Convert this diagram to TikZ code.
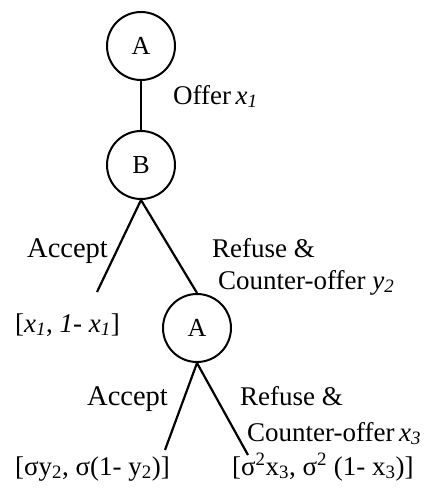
\documentclass[tikz,border=0pt]{standalone}
\usepackage{fontspec}
\setmainfont{Liberation Serif}
\begin{document}
\begin{tikzpicture}[x=1pt,y=-1pt,
  player/.style={circle,draw,line width=2pt,minimum size=68pt,inner sep=0pt,font=\fontsize{26}{30}\selectfont},
  edge/.style={line width=2.2pt},
  lbl/.style={anchor=base west,inner sep=0pt,font=\fontsize{27}{30}\selectfont}]
\useasboundingbox (0,0) rectangle (444,495);
\node[player] (A1) at (141,46) {A};
\node[player] (B) at (141,165) {B};
\node[player] (A2) at (197,328) {A};
\coordinate (L1) at (97,292);
\coordinate (L2) at (165,450);
\coordinate (L3) at (248,455);
\draw[edge] (A1) -- (B);
\draw[edge] (B.south) -- (L1);
\draw[edge] (B.south) -- (A2.north);
\draw[edge] (A2.south) -- (L2);
\draw[edge] (A2.south) -- (L3);
\node[lbl] (t1) at (173,104) {Offer\,\textit{x}\textsubscript{\textit{1}}};
\node[lbl,font=\fontsize{28.5}{30}\selectfont] (t2) at (27,257) {Accept};
\node[lbl] (t3) at (212,257) {Refuse \&};
\node[lbl] (t4) at (218,289) {Counter-offer \textit{y}\textsubscript{\textit{2}}};
\node[lbl] (t5) at (15,332) {[\textit{x}\textsubscript{\textit{1}}, \textit{1}- \textit{x}\textsubscript{\textit{1}}]};
\node[lbl,font=\fontsize{28.5}{30}\selectfont] (t6) at (87,405) {Accept};
\node[lbl] (t7) at (240,405) {Refuse \&};
\node[lbl] (t8) at (247,441) {Counter-offer\,\textit{x}\textsubscript{\textit{3}}};
\node[lbl] (t9) at (15,475) {[σy\textsubscript{2}, σ(1- y\textsubscript{2})]};
\node[lbl] (t10) at (232,475) {[σ\textsuperscript{2}x\textsubscript{3}, σ\textsuperscript{2} (1- x\textsubscript{3})]};
\end{tikzpicture}
\end{document}
